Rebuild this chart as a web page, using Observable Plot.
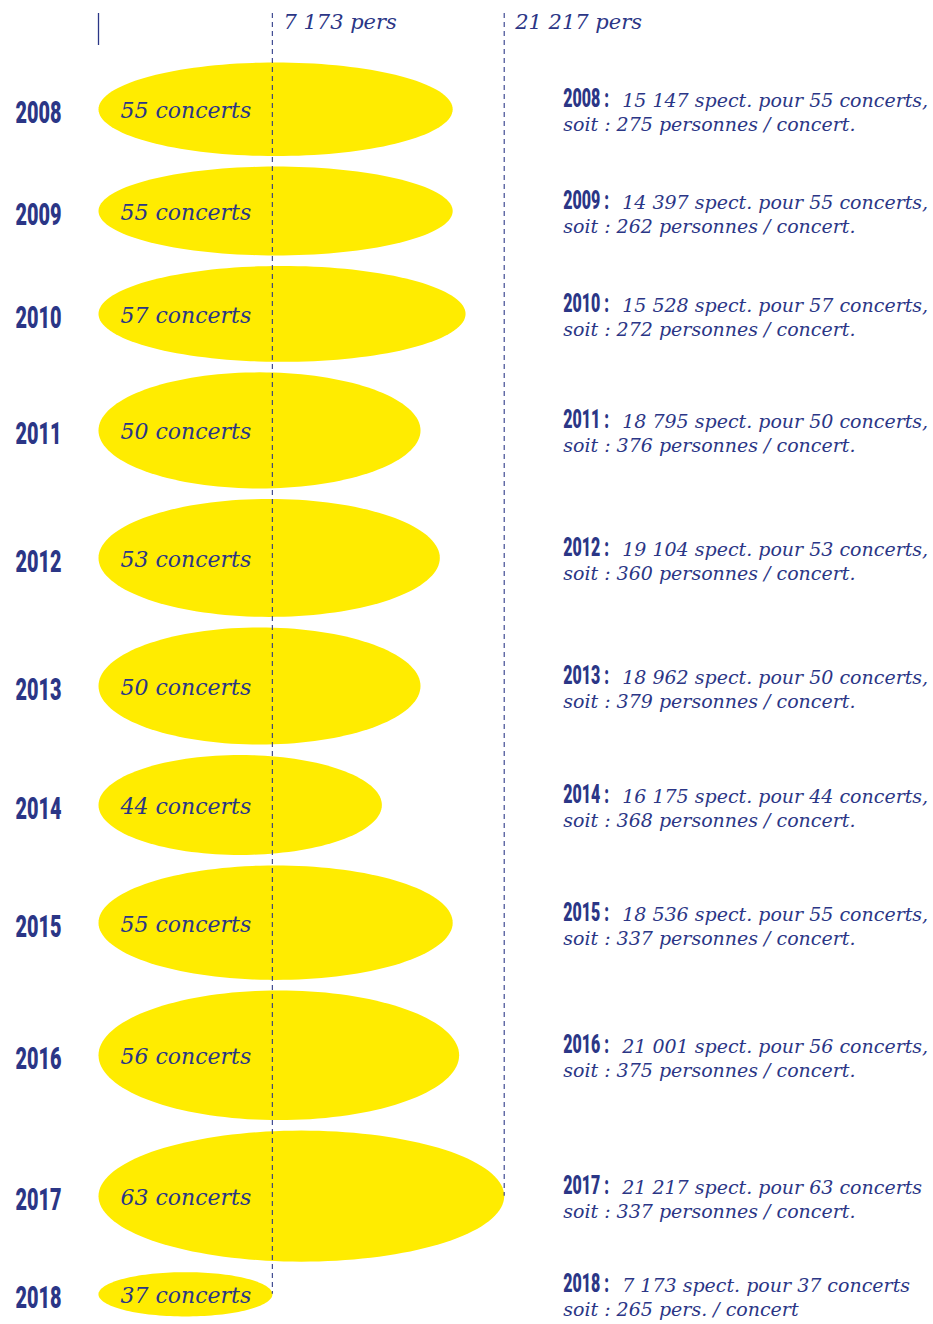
<!DOCTYPE html>
<html><head><meta charset="utf-8">
<script src="https://cdn.jsdelivr.net/npm/d3@7"></script>
<script src="https://cdn.jsdelivr.net/npm/@observablehq/plot@0.6"></script>
<style>body{margin:0;background:#fff}</style></head><body><div id="chart"></div>
<script>
const years = [2008, 2009, 2010, 2011, 2012, 2013, 2014, 2015, 2016, 2017, 2018];
const concerts = [55, 55, 57, 50, 53, 50, 44, 55, 56, 63, 37];
const spectators = [15147, 14397, 15528, 18795, 19104, 18962, 16175, 18536, 21001, 21217, 7173];
const perConcert = [275, 262, 272, 376, 360, 379, 368, 337, 375, 337, 265];
// ellipse width as drawn, in concert units (2018 is drawn narrower than its 37 concerts)
const spanConcerts = [55, 55, 57, 50, 53, 50, 44, 55, 56, 63, 27];

const navy = "#2b3686", yellow = "#ffec00";
const W = 933, H = 1324;
const k = 0.006176;            // px per spectator (vertical)
const pxPerConcert = 6.44;     // px per concert (horizontal)
const gap = 10.5 / k;          // gap between ellipses, spectator units
const fmt = d3.formatLocale({thousands: " ", grouping: [3], decimal: ","}).format(",d");

let acc = 0;
const rows = years.map((year, i) => {
  const cy = acc + spectators[i] / 2;
  acc += spectators[i] + gap;
  return {year, concerts: concerts[i], spect: spectators[i], per: perConcert[i], span: spanConcerts[i], cy, i};
});
const last = rows.length - 1;
const pts = rows.flatMap(r => d3.range(0, 145).map(j => {
  const t = j / 144 * 2 * Math.PI;
  return {year: r.year, x: r.span / 2 * (1 + Math.cos(t)), y: r.cy + r.spect / 2 * Math.sin(t)};
}));
const refs = [d3.least(rows, d => d.spect), d3.greatest(rows, d => d.spect)];
const yTop = -49 / k;
const maxSpan = d3.max(rows, d => d.span);

const line1 = d => `${fmt(d.spect)} spect. pour ${d.concerts} concerts${d.i < last - 1 ? "," : ""}`;
const line2 = d => d.i === last ? `soit : ${d.per} pers. / concert` : `soit : ${d.per} personnes / concert.`;

const serif = "'DejaVu Serif', serif";
const cond = "Roboto, sans-serif";

const chart = Plot.plot({
  width: W, height: H,
  marginLeft: 98, marginRight: 0, marginTop: 0, marginBottom: 0,
  x: {domain: [0, (W - 98) / pxPerConcert], axis: null},
  y: {domain: [-62 / k, (H - 62) / k], range: [0, H], axis: null},
  marks: [
    Plot.line(pts, {x: "x", y: "y", z: "year", fill: yellow, stroke: "none", curve: "linear-closed"}),
    Plot.ruleX([0], {x: d => d, y1: () => yTop, y2: () => -17 / k, stroke: navy, strokeWidth: 1.3}),
    Plot.ruleX(refs, {x: "span", y1: () => yTop, y2: "cy", stroke: navy, strokeWidth: 1.2, strokeDasharray: "5,4", strokeOpacity: 0.9}),
    Plot.text(refs, {x: "span", y: () => yTop, text: d => `${fmt(d.spect)} pers`, dx: 11, dy: 9, textAnchor: "start",
      fontFamily: serif, fontStyle: "italic", fontSize: 21, fill: navy}),
    Plot.text(rows, {y: "cy", frameAnchor: "left", text: d => String(d.year), dx: -83, dy: 4, textAnchor: "start",
      fontFamily: cond, fontWeight: 900, fontSize: 31, fill: navy}),
    Plot.text(rows, {x: () => 0, y: "cy", text: d => `${d.concerts} concerts`, dx: 22, dy: 2, textAnchor: "start",
      fontFamily: serif, fontStyle: "italic", fontSize: 22, fill: navy}),
    Plot.text(rows, {x: () => maxSpan, y: "cy", text: d => `${d.year} :`, dx: 59, dy: -10, textAnchor: "start",
      fontFamily: cond, fontWeight: 900, fontSize: 25, fill: navy}),
    Plot.text(rows, {x: () => maxSpan, y: "cy", text: line1, dx: 118, dy: -8, textAnchor: "start",
      fontFamily: serif, fontStyle: "italic", fontSize: 19, fill: navy}),
    Plot.text(rows, {x: () => maxSpan, y: "cy", text: line2, dx: 59, dy: 16, textAnchor: "start",
      fontFamily: serif, fontStyle: "italic", fontSize: 19, fill: navy})
  ]
});
// condense the bold year labels horizontally (anchored at their start)
d3.select(chart).selectAll("g").filter(function () { return this.getAttribute("font-family") === cond; })
  .selectAll("text").each(function () {
    const t = this.getAttribute("transform");
    if (t) this.setAttribute("transform", t + " scale(0.64,1)");
    else {
      const x = +this.getAttribute("x") || 0;
      this.setAttribute("transform", `translate(${x},0) scale(0.64,1) translate(${-x},0)`);
    }
  });
document.getElementById("chart").appendChild(chart);
</script></body></html>
